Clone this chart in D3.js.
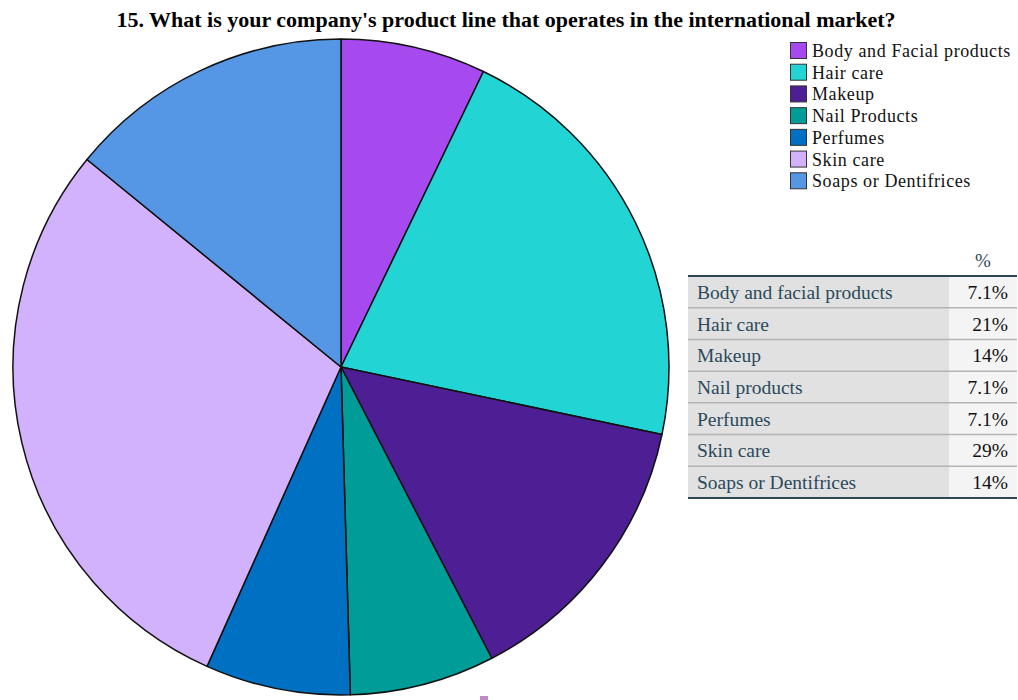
<!DOCTYPE html>
<html>
<head>
<meta charset="utf-8">
<script src="https://cdn.jsdelivr.net/npm/d3@7"></script>
<style>
  html, body { margin: 0; padding: 0; background: #fff; }
  svg { display: block; }
</style>
</head>
<body>
<svg id="chart" width="1018" height="700"></svg>
<script>
// Product lines and their share of responses (%)
const categories = ["Body and Facial products", "Hair care", "Makeup", "Nail Products", "Perfumes", "Skin care", "Soaps or Dentifrices"];
const tableLabels = ["Body and facial products", "Hair care", "Makeup", "Nail products", "Perfumes", "Skin care", "Soaps or Dentifrices"];
const shares = [7.1, 21, 14, 7.1, 7.1, 29, 14];
const shareLabels = ["7.1%", "21%", "14%", "7.1%", "7.1%", "29%", "14%"];
const palette = ["#a64af0", "#22d4d4", "#4e1f94", "#009c98", "#0070c2", "#d2b2fc", "#5597e4"];

const svg = d3.select("#chart");
const serif = "'Liberation Serif', 'DejaVu Serif', serif";

// Title
svg.append("text")
  .attr("x", 506).attr("y", 27)
  .attr("text-anchor", "middle")
  .attr("font-family", serif)
  .attr("font-weight", "bold")
  .attr("font-size", 22)
  .text("15. What is your company's product line that operates in the international market?");

// Pie
const cx = 341, cy = 367, radius = 328;
const color = d3.scaleOrdinal().domain(categories).range(palette);
const pie = d3.pie().value(d => d.v).sort(null);
const arc = d3.arc().innerRadius(0).outerRadius(radius);
const data = categories.map((c, i) => ({ c, v: shares[i] }));

svg.append("g")
  .attr("transform", `translate(${cx},${cy})`)
  .selectAll("path")
  .data(pie(data))
  .join("path")
  .attr("d", arc)
  .attr("fill", d => color(d.data.c))
  .attr("stroke", "#111")
  .attr("stroke-width", 1.5)
  .attr("stroke-linejoin", "round");

// Legend
const legY = d3.scaleBand().domain(categories).range([40, 192]);
const leg = svg.append("g").selectAll("g").data(categories).join("g")
  .attr("transform", d => `translate(790,${legY(d)})`);
leg.append("rect")
  .attr("x", 0.5).attr("y", 2.5)
  .attr("width", 16).attr("height", 16)
  .attr("fill", d => color(d))
  .attr("stroke", "#333").attr("stroke-width", 1);
leg.append("text")
  .attr("x", 22).attr("y", 17)
  .attr("font-family", serif)
  .attr("font-size", 18)
  .attr("letter-spacing", 0.6)
  .attr("fill", "#111")
  .text(d => d);

// Table
const tx0 = 688, tx1 = 1017, tcol = 949;
const rowY = d3.scaleBand().domain(tableLabels).range([276, 498]);
const tbl = svg.append("g");

tbl.append("text")
  .attr("x", 983).attr("y", 267)
  .attr("text-anchor", "middle")
  .attr("font-family", serif)
  .attr("font-size", 19)
  .attr("fill", "#2d4a5a")
  .text("%");

const rows = tbl.selectAll("g.row").data(tableLabels).join("g").attr("class", "row")
  .attr("transform", d => `translate(0,${rowY(d)})`);
rows.append("rect")
  .attr("x", tx0).attr("y", 0)
  .attr("width", tcol - tx0).attr("height", rowY.bandwidth())
  .attr("fill", "#e1e1e1");
rows.append("rect")
  .attr("x", tcol).attr("y", 0)
  .attr("width", tx1 - tcol).attr("height", rowY.bandwidth())
  .attr("fill", "#f4f4f4");
rows.append("text")
  .attr("x", 697).attr("y", rowY.bandwidth() / 2 + 7)
  .attr("font-family", serif)
  .attr("font-size", 19.5)
  .attr("fill", "#2b4a5c")
  .text(d => d);
rows.append("text")
  .attr("x", 1008).attr("y", rowY.bandwidth() / 2 + 7)
  .attr("text-anchor", "end")
  .attr("font-family", serif)
  .attr("font-size", 19.5)
  .attr("fill", "#111")
  .text((d, i) => shareLabels[i]);

// Row separators
tbl.selectAll("line.sep").data(tableLabels.slice(1)).join("line").attr("class", "sep")
  .attr("x1", tx0).attr("x2", tx1)
  .attr("y1", d => rowY(d)).attr("y2", d => rowY(d))
  .attr("stroke", "#b4b4b4").attr("stroke-width", 1.5);
// Top and bottom rules
tbl.append("line").attr("x1", tx0).attr("x2", tx1).attr("y1", 276).attr("y2", 276)
  .attr("stroke", "#2e4656").attr("stroke-width", 2);
tbl.append("line").attr("x1", tx0).attr("x2", tx1).attr("y1", 498).attr("y2", 498)
  .attr("stroke", "#2e4656").attr("stroke-width", 2);

// Small marker at the lower edge
svg.append("rect")
  .attr("x", 480).attr("y", 696).attr("width", 8).attr("height", 4)
  .attr("fill", "#c08ac6");
</script>
</body>
</html>
